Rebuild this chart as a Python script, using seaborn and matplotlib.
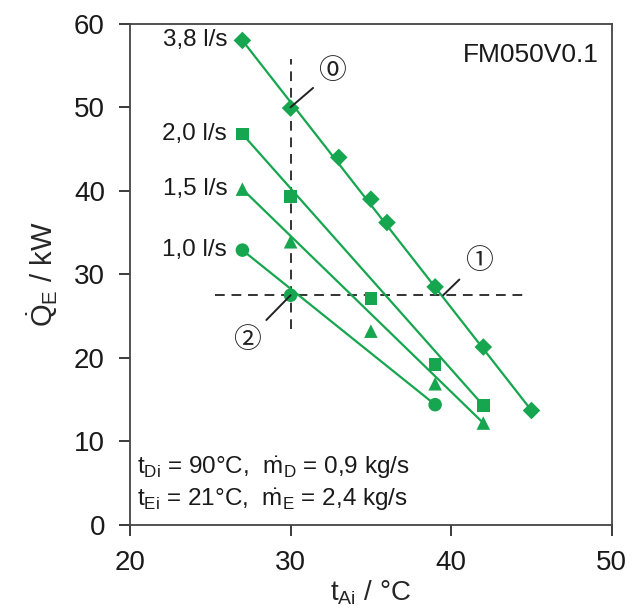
import numpy as np
import pandas as pd
import seaborn as sns
import matplotlib
import matplotlib.pyplot as plt

matplotlib.use('Agg')

# data
x_38 = [27, 30, 33, 35, 36, 39, 42, 45]
y_38 = [58.0, 49.9, 44.0, 39.0, 36.2, 28.5, 21.3, 13.7]

x_20 = [27, 30, 35, 39, 42]
y_20 = [46.8, 39.3, 27.1, 19.2, 14.3]

x_15 = [27, 30, 35, 39, 42]
y_15 = [40.2, 33.9, 23.2, 16.9, 12.2]

x_10 = [27, 30, 39]
y_10 = [32.9, 27.5, 14.4]

flow_labels = ['3,8 l/s', '2,0 l/s', '1,5 l/s', '1,0 l/s']
markers = ['D', 's', '^', 'o']
marker_sizes = [80, 80, 95, 95]

green = '#16a64f'
grey = '#333333'
dark = '#1a1a1a'

sns.set_style('ticks')
plt.rcParams['font.family'] = ['Liberation Sans', 'DejaVu Sans']
plt.rcParams['mathtext.fontset'] = 'custom'
plt.rcParams['mathtext.rm'] = 'Liberation Sans'
plt.rcParams['mathtext.it'] = 'Liberation Sans'
plt.rcParams['mathtext.bf'] = 'Liberation Sans:bold'

fig = plt.figure(figsize=(6.34, 6.09), dpi=100)
ax = fig.add_axes([0.205, 0.138, 0.76, 0.823])

series = [(x_38, y_38), (x_20, y_20), (x_15, y_15), (x_10, y_10)]
for (xs, ys), m, ms, lab in zip(series, markers, marker_sizes, flow_labels):
    df = pd.DataFrame({'t': xs, 'q': ys})
    # straight characteristic drawn from the first to the last measured point
    ends = df.iloc[[0, -1]]
    sns.lineplot(data=ends, x='t', y='q', ax=ax, color=green, lw=1.6)
    sns.scatterplot(data=df, x='t', y='q', ax=ax, marker=m, s=ms, color=green,
                    edgecolor='none', zorder=3)
    ax.text(xs[0] - 0.95, ys[0], lab, ha='right', va='center', fontsize=17.5, color=dark)

# operating point guides
ax.plot([30, 30], [23.4, 55.8], ls=(0, (5, 3.5)), color=grey, lw=1.4, zorder=1)
ax.plot([25.3, 44.7], [27.5, 27.5], ls=(0, (5, 3.5)), color=grey, lw=1.4, zorder=1)

# numbered points
circ = {'fontsize': 20, 'family': ['Noto Sans CJK SC', 'DejaVu Sans'], 'color': '#222222',
        'ha': 'center', 'va': 'center'}
lead = {'arrowstyle': '-', 'color': '#222222', 'lw': 1.4, 'shrinkA': 2, 'shrinkB': 0}
ax.annotate('\u24ea', xy=(30, 50), xytext=(32.6, 54.3), arrowprops=lead, **circ)
ax.annotate('\u2460', xy=(39.5, 27.5), xytext=(41.7, 31.6), arrowprops=lead, **circ)
ax.annotate('\u2461', xy=(30, 27.5), xytext=(27.3, 22.2), arrowprops=lead, **circ)

ax.text(49.2, 56.2, 'FM050V0.1', ha='right', va='center', fontsize=19, color=dark)
ax.text(20.45, 6.8, r'$\mathrm{t_{Di}}$ = 90°C,  $\dot{\mathrm{m}}_\mathrm{D}$ = 0,9 kg/s',
        ha='left', va='center', fontsize=17.5, color=dark)
ax.text(20.45, 3.0, r'$\mathrm{t_{Ei}}$ = 21°C,  $\dot{\mathrm{m}}_\mathrm{E}$ = 2,4 kg/s',
        ha='left', va='center', fontsize=17.5, color=dark)

ax.set_xlim(20, 50)
ax.set_ylim(0, 60)
ax.set_xticks([20, 30, 40, 50])
ax.set_yticks(range(0, 61, 10))
ax.tick_params(direction='out', length=8, width=1.2, labelsize=20, colors=dark, pad=10)
for s in ax.spines.values():
    s.set_visible(True)
    s.set_color('#444444')
    s.set_linewidth(1.3)

ax.set_xlabel(r'$\mathrm{t_{Ai}}$ / °C', fontsize=20, labelpad=2)
ax.set_ylabel(r'$\dot{\mathrm{Q}}_\mathrm{E}$ / kW', fontsize=21, labelpad=10)

plt.savefig('out.png', dpi=100)
plt.close()
